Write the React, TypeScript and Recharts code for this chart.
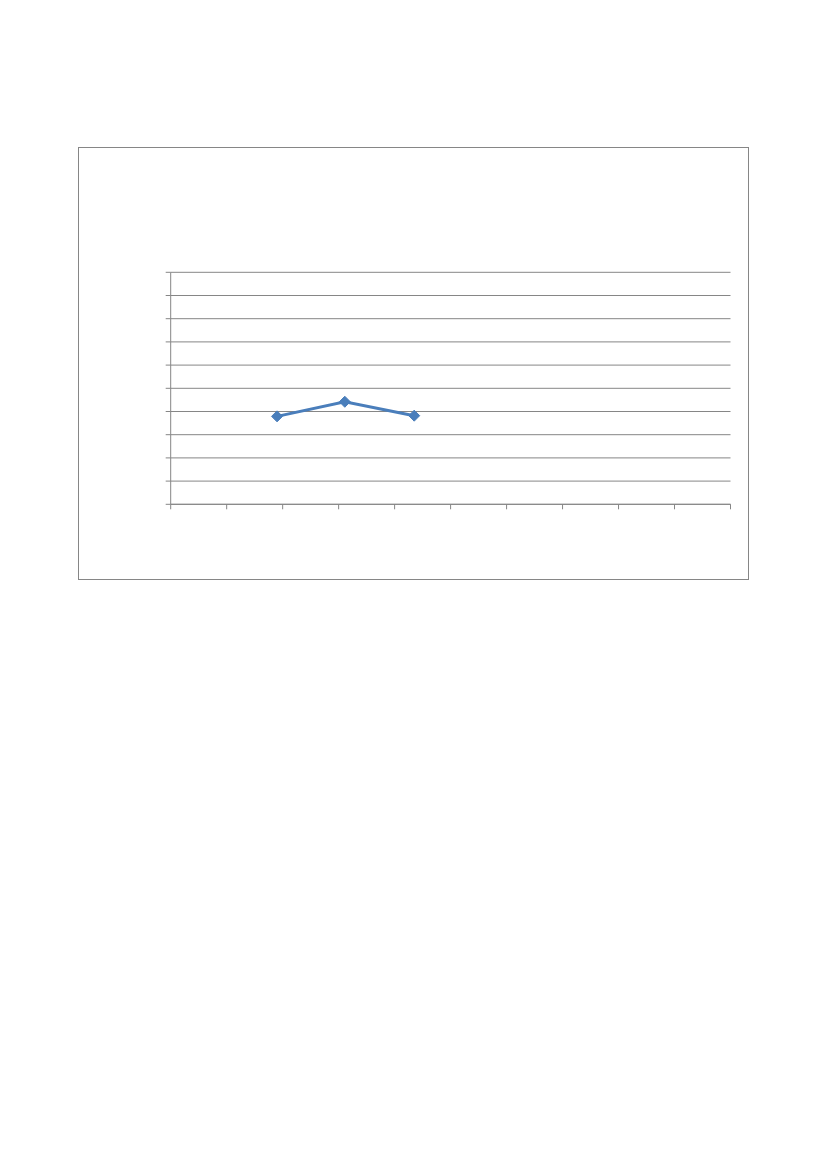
import React from "react";
import { LineChart, Line, XAxis, YAxis, CartesianGrid } from "recharts";

const xValues = [1.9, 3.11, 4.35];
const yValues = [3.79, 4.42, 3.82];
const xTicks = [0, 1, 2, 3, 4, 5, 6, 7, 8, 9, 10];
const yTicks = [0, 1, 2, 3, 4, 5, 6, 7, 8, 9, 10];

const data = xValues.map((x, i) => ({ x, y: yValues[i] }));

const GRAY = "#868686";
const BLUE = "#4a7ebb";

const Diamond = (props: any) => {
  const { cx, cy } = props;
  if (cx == null || cy == null) return <g />;
  const r = 5.5;
  return (
    <polygon
      points={`${cx},${cy - r} ${cx + r},${cy} ${cx},${cy + r} ${cx - r},${cy}`}
      fill={BLUE}
      stroke={BLUE}
      strokeWidth={1}
    />
  );
};

const EmptyTick = () => <g />;

export default function App() {
  return (
    <div style={{ position: "relative", width: 827, height: 1169 }}>
      <div
        style={{
          position: "absolute",
          left: 70,
          top: 139,
          width: 669,
          height: 431,
          border: `1px solid ${GRAY}`,
          background: "#fff",
        }}
      >
        <LineChart
          width={669}
          height={431}
          data={data}
          margin={{ top: 124.3, right: 17.5, bottom: 64.7, left: 81.7 }}
        >
          <CartesianGrid horizontal vertical={false} stroke={GRAY} strokeWidth={1} />
          <XAxis
            type="number"
            dataKey="x"
            domain={[0, 10]}
            ticks={xTicks}
            interval={0}
            height={10}
            tick={EmptyTick}
            tickSize={5}
            axisLine={{ stroke: GRAY, strokeWidth: 1 }}
            tickLine={{ stroke: GRAY, strokeWidth: 1 }}
          />
          <YAxis
            type="number"
            domain={[0, 10]}
            ticks={yTicks}
            interval={0}
            width={10}
            tick={EmptyTick}
            tickSize={5}
            axisLine={{ stroke: GRAY, strokeWidth: 1 }}
            tickLine={{ stroke: GRAY, strokeWidth: 1 }}
          />
          <Line
            dataKey="y"
            stroke={BLUE}
            strokeWidth={3}
            dot={<Diamond />}
            activeDot={false}
            isAnimationActive={false}
          />
        </LineChart>
      </div>
    </div>
  );
}
